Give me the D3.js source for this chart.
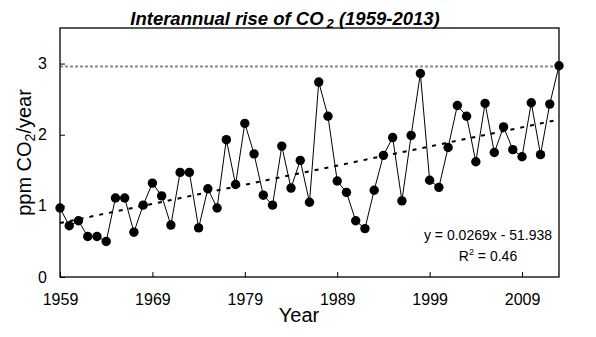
<!DOCTYPE html>
<html>
<head>
<meta charset="utf-8">
<script src="https://cdn.jsdelivr.net/npm/d3@7"></script>
<style>
  html, body { margin: 0; padding: 0; background: #fff; }
  svg { display: block; font-family: "Liberation Sans", Arial, sans-serif; }
</style>
</head>
<body>
<svg id="chart" width="596" height="337"></svg>
<script>
// Annual growth of atmospheric CO2 (ppm per year)
const years = [1959, 1960, 1961, 1962, 1963, 1964, 1965, 1966, 1967, 1968,
               1969, 1970, 1971, 1972, 1973, 1974, 1975, 1976, 1977, 1978,
               1979, 1980, 1981, 1982, 1983, 1984, 1985, 1986, 1987, 1988,
               1989, 1990, 1991, 1992, 1993, 1994, 1995, 1996, 1997, 1998,
               1999, 2000, 2001, 2002, 2003, 2004, 2005, 2006, 2007, 2008,
               2009, 2010, 2011, 2012, 2013];
const growth = [0.97, 0.72, 0.79, 0.57, 0.57, 0.50, 1.11, 1.11, 0.63, 1.01,
                1.32, 1.14, 0.73, 1.47, 1.47, 0.69, 1.24, 0.97, 1.93, 1.30,
                2.16, 1.73, 1.15, 1.01, 1.84, 1.25, 1.64, 1.05, 2.74, 2.26,
                1.35, 1.19, 0.79, 0.68, 1.22, 1.71, 1.96, 1.07, 1.99, 2.86,
                1.36, 1.26, 1.82, 2.41, 2.26, 1.62, 2.44, 1.75, 2.11, 1.79,
                1.69, 2.45, 1.72, 2.43, 2.97];

// Linear fit reported on the chart
const fitSlope = 0.0269;
const fitIntercept = -51.938;
const fitR2 = 0.46;

// Horizontal reference level (latest annual rise)
const refLevel = 2.96;

const xTickLabels = [1959, 1969, 1979, 1989, 1999, 2009];
const yTickLabels = [0, 1, 2, 3];

const svg = d3.select("#chart");
const plot = { left: 60, right: 559, top: 28, bottom: 277 };

const x = d3.scaleLinear().domain([1959, 2013]).range([plot.left, plot.right]);
const y = d3.scaleLinear().domain([0, 3.5]).range([plot.bottom, plot.top]);

// Reference level
svg.append("line")
  .attr("x1", x(1959)).attr("x2", x(2013))
  .attr("y1", y(refLevel)).attr("y2", y(refLevel))
  .attr("stroke", "#8c8c8c").attr("stroke-width", 2)
  .attr("stroke-dasharray", "3,2");

// Trend line from the fitted equation
const fitYears = [1959, 2013];
svg.append("path")
  .datum(fitYears)
  .attr("fill", "none")
  .attr("stroke", "#000").attr("stroke-width", 2)
  .attr("stroke-dasharray", "4,6")
  .attr("d", d3.line().x(d => x(d)).y(d => y(fitSlope * d + fitIntercept)));

// Data series
const series = years.map((yr, i) => ({ yr, v: growth[i] }));
svg.append("path")
  .datum(series)
  .attr("fill", "none")
  .attr("stroke", "#000").attr("stroke-width", 1)
  .attr("d", d3.line().x(d => x(d.yr)).y(d => y(d.v)));

svg.append("g").selectAll("circle")
  .data(series)
  .join("circle")
  .attr("cx", d => x(d.yr))
  .attr("cy", d => y(d.v))
  .attr("r", 4.7)
  .attr("fill", "#000");

// Axes with inward ticks
const xAxis = svg.append("g")
  .attr("transform", `translate(0,${plot.bottom})`)
  .call(d3.axisBottom(x).tickValues(xTickLabels).tickFormat(d3.format("d"))
        .tickSize(-5).tickPadding(17));
const yAxis = svg.append("g")
  .attr("transform", `translate(${plot.left},0)`)
  .call(d3.axisLeft(y).tickValues(yTickLabels).tickFormat(d3.format("d"))
        .tickSize(-5).tickPadding(13));
[xAxis, yAxis].forEach(g => {
  g.select(".domain").remove();
  g.selectAll(".tick line").attr("stroke", "#000").attr("stroke-width", 1);
  g.selectAll(".tick text").attr("fill", "#000")
    .style("font-size", "16px").style("font-family", "'Liberation Sans', Arial, sans-serif");
});

// Plot frame
svg.append("rect")
  .attr("x", plot.left).attr("y", plot.top)
  .attr("width", plot.right - plot.left).attr("height", plot.bottom - plot.top)
  .attr("fill", "none").attr("stroke", "#000").attr("stroke-width", 1.3);

// Title
const title = svg.append("text")
  .attr("x", 285).attr("y", 25)
  .attr("text-anchor", "middle")
  .style("font-size", "18.5px").style("font-weight", "bold").style("font-style", "italic");
title.append("tspan").text("Interannual rise of CO");
title.append("tspan").attr("dx", 3).attr("dy", 3).style("font-size", "13px").text("2");
title.append("tspan").attr("dy", -3).text(" (1959-2013)");

// Axis titles
svg.append("text")
  .attr("x", 299).attr("y", 322)
  .attr("text-anchor", "middle")
  .style("font-size", "20px")
  .text("Year");

const yTitle = svg.append("text")
  .attr("transform", `translate(31,${(plot.top + plot.bottom) / 2}) rotate(-90)`)
  .attr("text-anchor", "middle")
  .style("font-size", "20px");
yTitle.append("tspan").text("ppm CO");
yTitle.append("tspan").attr("dy", 4).style("font-size", "14px").text("2");
yTitle.append("tspan").attr("dy", -4).text("/year");

// Fit annotation
svg.append("text")
  .attr("x", 488).attr("y", 240)
  .attr("text-anchor", "middle")
  .style("font-size", "14px")
  .text(`y = ${fitSlope}x - ${Math.abs(fitIntercept)}`);
const r2 = svg.append("text")
  .attr("x", 488).attr("y", 261)
  .attr("text-anchor", "middle")
  .style("font-size", "14px");
r2.append("tspan").text("R");
r2.append("tspan").attr("dy", -6).style("font-size", "9px").text("2");
r2.append("tspan").attr("dy", 6).text(` = ${fitR2}`);
</script>
</body>
</html>
